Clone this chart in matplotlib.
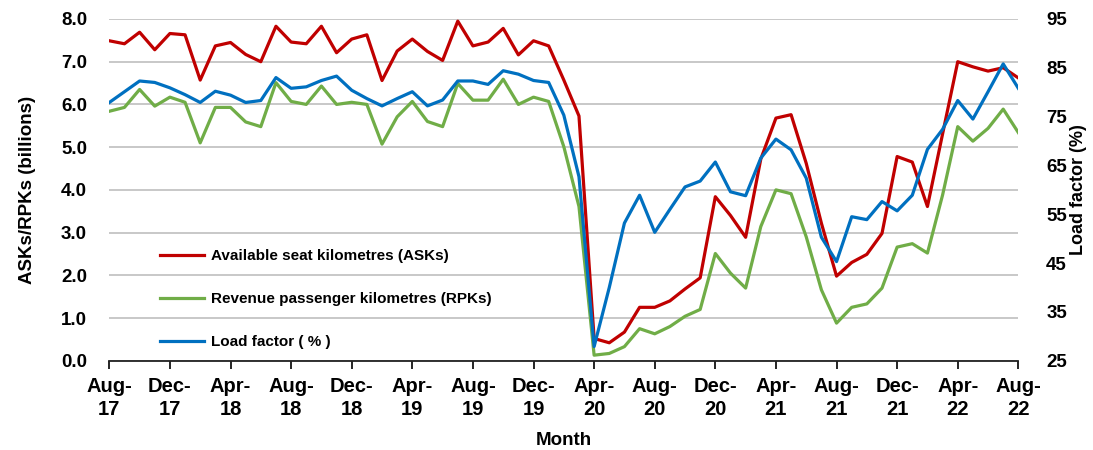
import matplotlib
matplotlib.use("Agg")
import matplotlib.pyplot as plt

plt.rcParams["font.family"] = ["Liberation Sans", "DejaVu Sans"]
plt.rcParams["font.weight"] = "bold"

# --- Data (monthly, Aug-17 .. Aug-22) ---
ask = [7.49, 7.42, 7.69, 7.28, 7.66, 7.63, 6.57, 7.37, 7.45, 7.17,
       7.00, 7.83, 7.46, 7.42, 7.83, 7.21, 7.53, 7.63, 6.56, 7.25,
       7.53, 7.24, 7.03, 7.95, 7.37, 7.46, 7.78, 7.16, 7.49, 7.37,
       6.57, 5.73, 0.52, 0.42, 0.67, 1.25, 1.25, 1.40, 1.68, 1.94,
       3.84, 3.40, 2.89, 4.72, 5.68, 5.76, 4.62, 3.22, 1.98, 2.30,
       2.49, 2.98, 4.78, 4.65, 3.61, 5.31, 7.00, 6.88, 6.78, 6.86,
       6.62]
rpk = [5.84, 5.93, 6.35, 5.96, 6.17, 6.05, 5.10, 5.93, 5.93, 5.59,
       5.48, 6.51, 6.07, 6.00, 6.43, 6.00, 6.05, 6.00, 5.07, 5.71,
       6.07, 5.60, 5.48, 6.49, 6.10, 6.10, 6.59, 6.00, 6.17, 6.07,
       5.01, 3.61, 0.13, 0.17, 0.33, 0.75, 0.63, 0.80, 1.04, 1.20,
       2.51, 2.05, 1.70, 3.14, 4.00, 3.91, 2.90, 1.66, 0.88, 1.25,
       1.33, 1.70, 2.66, 2.74, 2.52, 3.88, 5.48, 5.14, 5.44, 5.89,
       5.34]
load_factor = [77.9, 80.1, 82.3, 82.0, 80.9, 79.5, 77.9, 80.2, 79.4, 77.9,
               78.3, 83.0, 80.8, 81.1, 82.4, 83.3, 80.4, 78.7, 77.2, 78.7,
               80.1, 77.2, 78.4, 82.3, 82.3, 81.6, 84.4, 83.7, 82.4, 82.0,
               75.3, 62.7, 27.9, 40.0, 53.2, 58.9, 51.3, 56.0, 60.6, 61.8,
               65.7, 59.6, 58.8, 66.5, 70.4, 68.2, 62.4, 50.3, 45.3, 54.5,
               53.9, 57.6, 55.7, 58.9, 68.3, 72.4, 78.3, 74.5, 80.1, 85.8,
               80.8]
tick_labels = ["Aug-\n17", "Dec-\n17", "Apr-\n18", "Aug-\n18", "Dec-\n18",
               "Apr-\n19", "Aug-\n19", "Dec-\n19", "Apr-\n20", "Aug-\n20",
               "Dec-\n20", "Apr-\n21", "Aug-\n21", "Dec-\n21", "Apr-\n22",
               "Aug-\n22"]

RED = "#C00000"
GREEN = "#70AD47"
BLUE = "#0070C0"

x = list(range(len(ask)))

fig = plt.figure(figsize=(10.93, 4.5), dpi=100)
ax = fig.add_axes([0.1, 0.1984, 0.8317, 0.7594])
ax2 = ax.twinx()

ax.plot(x, ask, color=RED, lw=2.3, label="Available seat kilometres (ASKs)")
ax.plot(x, rpk, color=GREEN, lw=2.3, label="Revenue passenger kilometres (RPKs)")
ax2.plot(x, load_factor, color=BLUE, lw=2.3, label="Load factor ( % )")

ax.set_xlim(0, len(ask) - 1)
ax.set_ylim(0, 8)
ax.set_yticks([i * 1.0 for i in range(9)])
ax.set_yticklabels([f"{i:.1f}" for i in range(9)])
ax2.set_ylim(25, 95)
ax2.set_yticks(range(25, 96, 10))

ax.set_xticks(range(0, len(ask), 4))
ax.set_xticklabels(tick_labels, fontsize=14.5, linespacing=1.25)

ax.grid(axis="y", color="#c4c4c4", lw=1.3)
ax.set_axisbelow(True)
for a in (ax, ax2):
    for s in ("left", "right", "top"):
        a.spines[s].set_visible(False)
ax.spines["bottom"].set_color("#222222")
ax.spines["bottom"].set_linewidth(1.3)
ax2.spines["bottom"].set_visible(False)

ax.tick_params(axis="x", direction="out", length=6, width=1.2, pad=6)
ax.tick_params(axis="y", length=0, labelsize=13.5, pad=16)
ax2.tick_params(axis="y", length=0, labelsize=13.5, pad=20)

ax.set_xlabel("Month", fontsize=13.5, fontweight="bold", labelpad=9)
ax.set_ylabel("ASKs/RPKs (billions)", fontsize=13.5, fontweight="bold", labelpad=18)
ax2.set_ylabel("Load factor (%)", fontsize=13, fontweight="bold", labelpad=2)

h1, l1 = ax.get_legend_handles_labels()
h2, l2 = ax2.get_legend_handles_labels()
ax2.legend(h1 + h2, l1 + l2, loc="upper left", bbox_to_anchor=(0.146, 0.447),
           bbox_transform=fig.transFigure, frameon=False, fontsize=11,
           handlelength=2.9, handletextpad=0.45, labelspacing=1.9,
           borderpad=0, borderaxespad=0)

fig.savefig("out.png", dpi=100)
